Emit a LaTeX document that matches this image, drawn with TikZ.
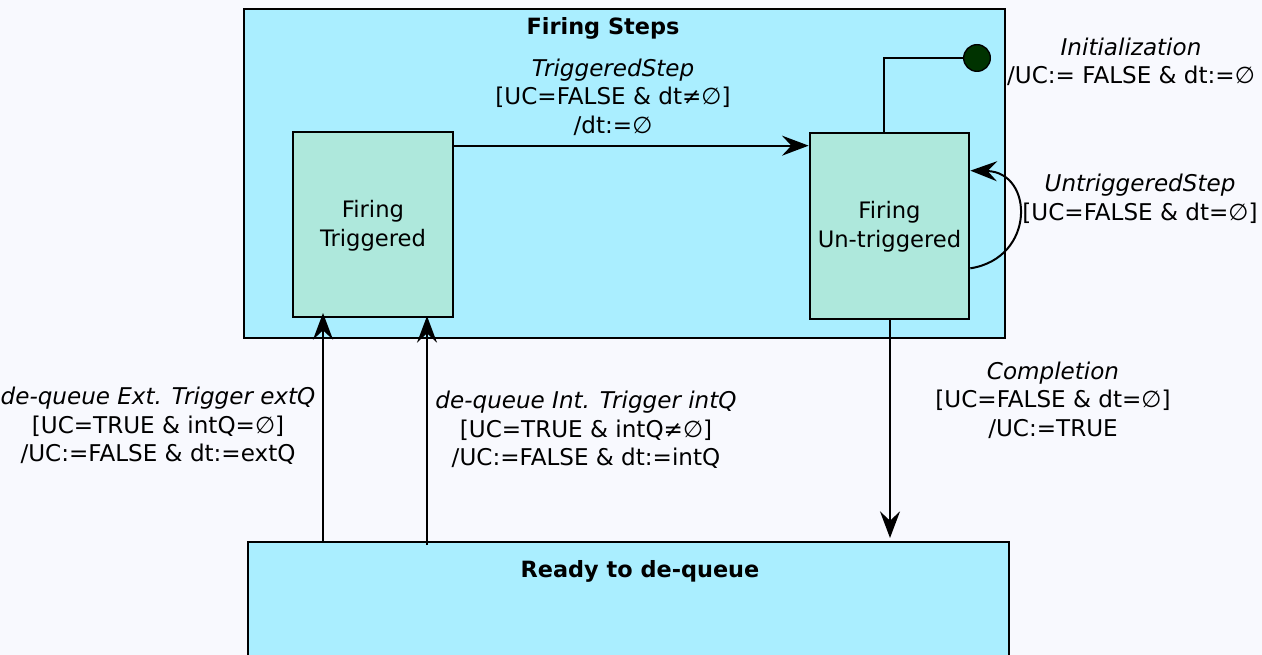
\documentclass[tikz,border=0pt]{standalone}
\usepackage{fontspec}
\setmainfont{DejaVu Sans}
\usetikzlibrary{arrows.meta,fit,calc}
\definecolor{pagebg}{HTML}{F8F9FE}
\definecolor{statebg}{HTML}{AAEEFF}
\definecolor{substate}{HTML}{AEE8DC}
\definecolor{initdot}{HTML}{003300}
\tikzset{
  composite/.style={draw=black, fill=statebg, line width=2pt, inner sep=0pt},
  simple/.style={draw=black, fill=substate, line width=2pt, inner sep=0pt},
  boxtitle/.style={font=\bfseries\fontsize{16.8}{20}\selectfont},
  statetext/.style={font=\fontsize{17}{21.5}\selectfont, align=center},
  trans/.style={line width=1.5pt, -{Stealth[length=20pt,width=15pt,inset=7pt]}},
  guard/.style={font=\fontsize{17.3}{21.4}\selectfont, align=center, inner sep=0pt},
}
\begin{document}
\begin{tikzpicture}[x=0.75pt,y=-0.75pt]
\useasboundingbox (0,0) rectangle (1262,655);
\fill[pagebg] (0,0) rectangle (1262,655);
\clip (0,0) rectangle (1262,655);

% composite state holding both firing sub-states
\node[composite, fit={(244,9) (1005,338)}] (steps) {};
\node[boxtitle] (stepsT) at (603,28) {Firing Steps};

% sub-states
\node[simple, fit={(293,132) (453,317)}] (trig) {};
\node[statetext] (trigT) at ($(trig.center)+(0,1)$) {Firing\\Triggered};
\node[simple, fit={(810,133) (969,319)}] (untrig) {};
\node[statetext] (untrigT) at ($(untrig.center)+(0,1)$) {Firing\\Un-triggered};

% lower composite state, running past the bottom edge
\node[composite, fit={(248,542) (1009,680)}] (ready) {};
\node[boxtitle] (readyT) at (640,571) {Ready to de-queue};

% initial pseudo-state
\node[circle, fill=initdot, draw=black, line width=1pt, minimum size=20pt, inner sep=0pt] (init) at (977,58) {};
\coordinate (initbend) at (884,58);
\draw[line width=2pt] (init.west) -- (initbend) -- (initbend |- untrig.north);
\node[guard] (initL) at (1131,62) {\itshape Initialization\\/UC:= FALSE \& dt:=∅};

% triggered step
\draw[trans] ($(trig.north east)+(0,15)$) -- ($(untrig.north west)+(0,14)$);
\node[guard] (tsL) at (613,97) {\itshape TriggeredStep\\{}[UC=FALSE \& dt≠∅]\\/dt:=∅};

% untriggered self loop
\draw[trans] ($(untrig.south east)+(0,-52)$) .. controls (1036,258) and (1034,172) .. ($(untrig.north east)+(0,39)$);
\node[guard] (usL) at (1140,199) {\itshape UntriggeredStep\\{}[UC=FALSE \& dt=∅]};

% completion
\draw[trans] (untrig.south -| 890,0) -- (890,538);
\node[guard] (compL) at (1053,400) {\itshape Completion\\{}[UC=FALSE \& dt=∅]\\/UC:=TRUE};

% de-queue transitions
\draw[trans] (323,542) -- (323,313);
\draw[trans] (427,545) -- (427,316);
\node[guard] (extL) at (158,426) {\itshape de-queue Ext. Trigger extQ\\{}[UC=TRUE \& intQ=∅]\\/UC:=FALSE \& dt:=extQ};
\node[guard] (intL) at (586,430) {\itshape de-queue Int. Trigger intQ\\{}[UC=TRUE \& intQ≠∅]\\/UC:=FALSE \& dt:=intQ};
\end{tikzpicture}
\end{document}
